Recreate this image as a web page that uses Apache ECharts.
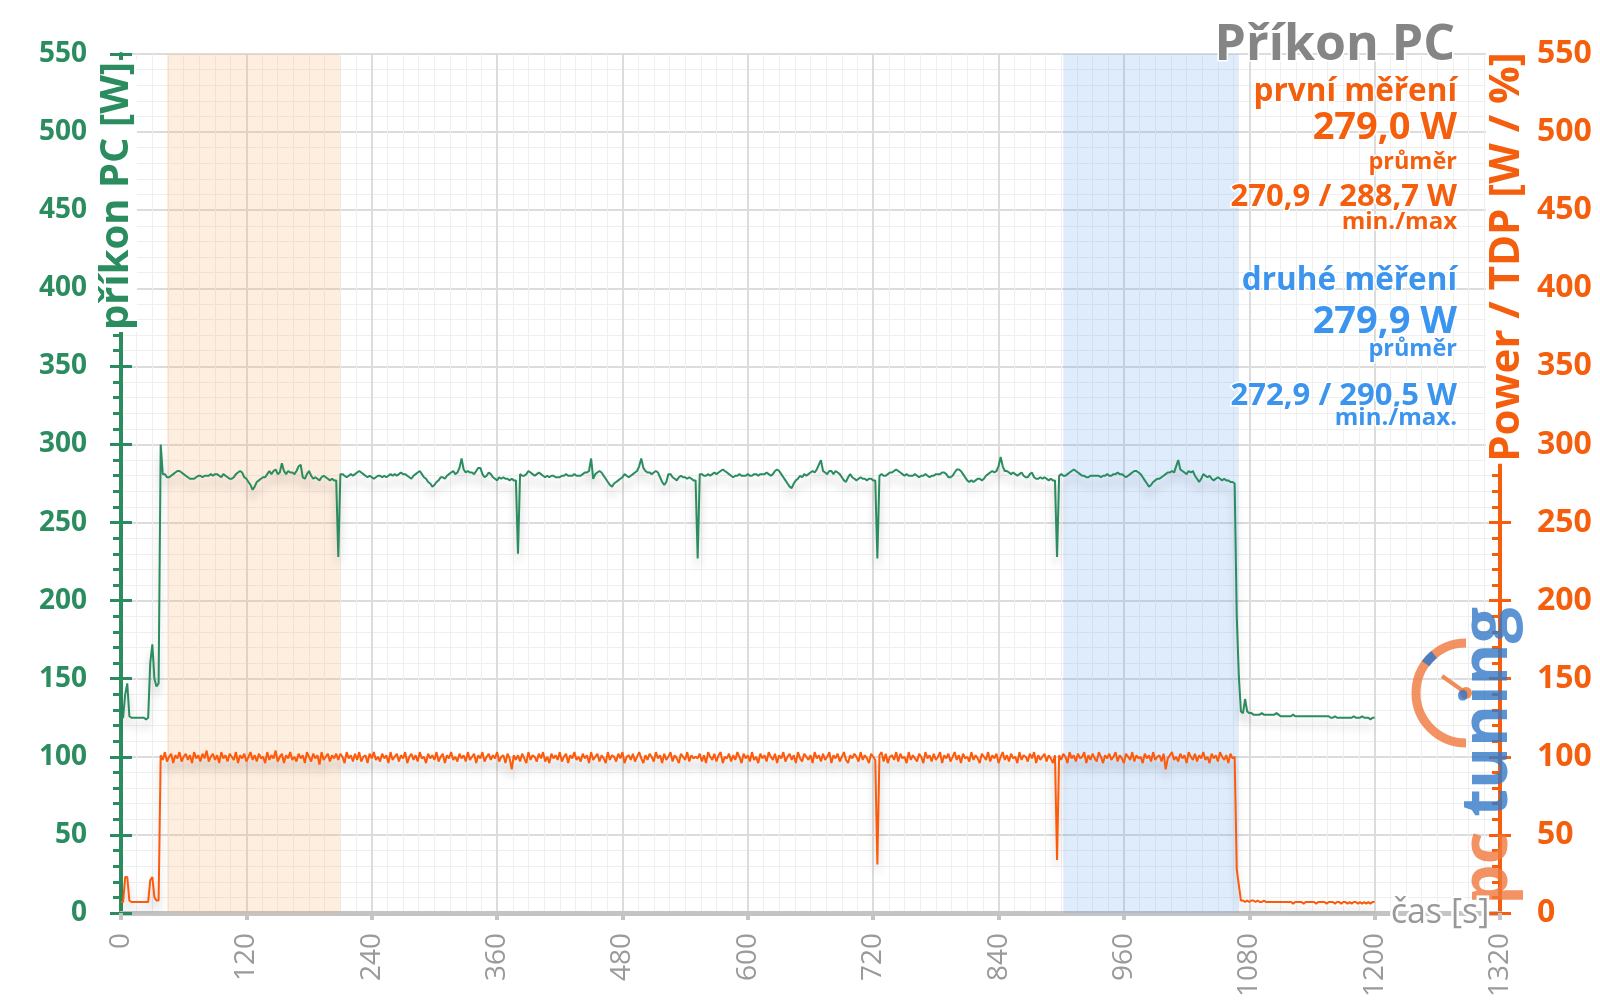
<!DOCTYPE html>
<html><head><meta charset="utf-8">
<script src="https://cdn.jsdelivr.net/npm/echarts@6/dist/echarts.min.js"></script>
<style>html,body{margin:0;padding:0;background:#fff}#c{width:1600px;height:1008px}</style>
</head><body><div id="c"></div>
<script>
// ---------- DATA (time step 2 s inside each segment) ----------
const STEP = 2;
const cycleStarts = [38, 208, 380, 552, 724, 896];
const tailStart = 1068;

const pcIdleStart = [125,125,140,147,126,125,125,125,125,125,125,125,124,125,160,172,150,145,147];
const pcCycle1 = [
300,281,281,279,279,280,281,282,283,283,
282,281,280,279,278,278,278,279,280,280,
279,280,280,280,281,280,281,281,280,279,
281,280,279,278,278,279,281,282,283,282,
279,278,276,274,271,273,276,277,278,279,
279,281,283,281,283,284,281,282,288,283,
281,283,282,282,281,283,286,287,279,278,
281,283,280,278,279,278,277,279,280,279,
278,277,278,277,277];
const pcCycle2 = [
228,281,281,280,279,280,281,280,281,282,
283,282,281,280,279,280,279,278,279,280,
280,279,280,279,280,281,280,281,280,281,
282,281,281,280,279,278,280,281,282,283,
281,279,278,276,275,273,274,276,277,279,
279,278,280,281,282,283,281,282,285,291,
284,282,283,282,282,281,283,285,285,281,
279,280,282,281,279,278,277,279,278,279,
278,278,277,278,277,277];
const pcCycle3 = [
230,281,280,280,281,283,282,281,280,281,
282,281,280,279,280,279,280,280,279,279,
279,280,280,281,280,280,280,281,280,280,
280,281,282,282,283,291,278,281,282,283,
282,280,278,276,274,273,275,276,277,278,
279,281,280,279,280,281,282,283,286,291,
285,283,282,282,281,282,283,282,279,276,
274,276,281,281,279,278,277,279,280,279,
279,278,279,278,277,277];
const pcCycle4 = [
227,281,281,280,280,281,280,281,282,281,
282,283,284,283,282,281,280,279,280,280,
281,280,280,280,281,280,280,281,281,280,
281,281,281,282,281,280,281,283,284,283,
281,279,277,275,273,272,275,277,278,280,
279,281,280,281,282,283,282,284,287,290,
283,282,281,283,283,281,283,282,281,279,
277,276,279,281,279,278,277,278,279,278,
278,277,278,278,277,277];
const pcCycle5 = [
227,280,281,280,280,281,282,282,283,284,
283,282,281,280,281,280,280,280,281,280,
279,280,280,281,280,279,280,280,281,281,
281,282,282,281,279,279,280,282,284,284,
283,281,279,277,276,277,276,277,278,278,
277,278,280,281,282,283,282,283,286,292,
286,283,283,282,281,282,281,280,281,282,
280,279,279,281,282,279,278,278,279,278,
279,278,277,278,277,277];
const pcCycle6 = [
228,280,281,280,280,281,282,283,284,283,
282,281,280,280,279,279,280,280,280,280,
280,279,280,280,281,280,280,281,281,282,
281,281,280,279,280,281,282,283,283,282,
281,279,277,275,273,274,276,277,278,278,
279,280,281,282,282,283,282,286,290,284,
283,282,281,283,282,283,280,278,276,278,
281,280,279,280,278,277,278,279,278,277,
278,277,277,276,276,275];
const pcTail = [
190,152,129,128,137,129,128,128,127,127,
127,127,128,127,127,127,127,127,127,128,
127,126,126,126,126,126,126,127,126,126,
126,126,126,126,126,126,126,126,126,126,
126,126,126,126,126,125,125,126,125,125,
125,125,125,125,125,125,126,125,125,125,
126,125,125,125,124,125,125];

const tdpIdleStart = [7,7,23,23,8,7,7,7,7,7,7,7,7,7,21,23,10,8,8];
const tdpCycle1 = [
101,98,103,97,100,102,96,101,99,103,
97,100,102,98,101,96,103,99,101,97,
102,99,104,97,100,102,98,101,96,103,
99,101,97,102,100,98,103,96,101,99,
102,97,100,103,98,101,97,102,99,100,
96,103,98,101,99,104,97,100,102,96,
101,99,103,98,100,97,102,99,101,96,
103,100,97,102,99,101,95,103,98,100,
102,97,101,99,102];
const tdpCycle2 = [
98,102,100,96,103,99,101,97,102,98,
103,97,100,101,96,102,99,103,98,100,
97,102,99,101,96,103,98,100,102,97,
101,99,103,96,100,102,98,101,97,103,
99,100,96,102,99,101,98,103,97,100,
102,96,101,99,103,98,100,97,102,99,
101,97,103,98,100,102,96,101,99,103,
97,100,102,98,101,99,103,97,100,101,
96,102,99,92,101,98];
const tdpCycle3 = [
101,97,102,99,96,103,98,101,100,97,
102,99,103,97,100,96,102,99,101,98,
103,97,100,102,96,101,99,103,98,100,
97,102,99,101,96,103,98,100,102,97,
101,99,96,103,98,101,100,97,102,99,
103,96,100,101,98,102,97,100,103,99,
96,101,98,102,100,97,103,99,101,96,
102,98,100,103,97,101,99,96,102,100,
98,103,97,101,99,100];
const tdpCycle4 = [
99,102,97,101,96,103,100,98,102,97,
101,103,96,100,99,102,97,101,98,103,
100,96,102,99,101,97,103,98,100,96,
102,99,101,97,103,100,98,102,96,101,
99,103,97,100,102,98,101,96,103,99,
97,102,100,98,101,96,103,99,101,97,
102,98,100,103,96,101,99,102,97,100,
103,98,96,101,99,102,100,97,103,98,
101,99,96,102,100,98];
const tdpCycle5 = [
31,101,103,97,102,96,100,101,98,103,
97,102,99,100,96,103,98,101,99,97,
102,100,96,103,99,101,97,102,98,100,
103,96,101,99,102,97,100,103,98,101,
96,102,99,100,97,103,98,101,99,96,
102,100,98,103,97,101,99,102,96,100,
103,98,101,97,102,99,100,96,103,98,
101,100,97,102,99,103,96,101,98,100,
102,97,101,99,96,101];
const tdpCycle6 = [
34,101,98,102,100,96,103,99,101,97,
102,99,100,103,96,101,98,102,99,97,
103,100,96,101,99,102,98,100,103,97,
101,99,96,102,100,98,103,97,101,99,
100,96,102,99,101,97,103,98,100,101,
97,102,92,99,101,103,98,100,97,102,
99,101,96,103,100,98,102,97,101,99,
103,98,100,96,102,99,101,97,103,100,
98,101,96,102,99,100];
const tdpTail = [
28,18,8,8,7,8,7,8,8,7,
8,7,7,8,7,7,7,7,7,7,
7,7,7,7,7,7,7,6,7,7,
7,7,6,7,7,7,7,7,6,7,
7,7,7,6,7,7,7,6,7,7,
6,7,7,6,7,6,7,7,6,7,
6,7,6,7,6,7,7];

const bandFirst = [44, 210];
const bandSecond = [902, 1070];

// ---------- BUILD ----------
function seg(start, vals, limit) {
  return vals.map((v, i) => [start + i * STEP, v]).filter(p => limit == null || p[0] < limit);
}
function buildSeries(idle, cycles, tail) {
  let out = seg(0, idle, cycleStarts[0]);
  cycles.forEach((c, k) => {
    const lim = k + 1 < cycleStarts.length ? cycleStarts[k + 1] : tailStart;
    out = out.concat(seg(cycleStarts[k], c, lim));
  });
  return out.concat(seg(tailStart, tail));
}
const pcData = buildSeries(pcIdleStart, [pcCycle1, pcCycle2, pcCycle3, pcCycle4, pcCycle5, pcCycle6], pcTail);
const tdpData = buildSeries(tdpIdleStart, [tdpCycle1, tdpCycle2, tdpCycle3, tdpCycle4, tdpCycle5, tdpCycle6], tdpTail);

const GREEN = '#2b8c5f', ORANGE = '#f45e0c', BLUE = '#3b94ee', GREY = '#858585';
const FONT = 'Open Sans';

function yAx(extra) {
  return Object.assign({
    type: 'value', min: 0, max: 550, interval: 50,
    axisLine: { show: false }, axisLabel: { show: false }, splitLine: { show: false },
    axisTick: { show: false }, minorTick: { show: false }
  }, extra);
}

const chart = echarts.init(document.getElementById('c'), null, { renderer: 'canvas' });
const txt = (text, x, y, color, size, extra) => Object.assign({
  type: 'text', x: x, y: y, z: 50,
  style: Object.assign({ text: text, fill: color, fontSize: size, fontWeight: 'bold', fontFamily: FONT,
    align: 'right', verticalAlign: 'middle', stroke: '#fff', lineWidth: 3 }, extra || {})
});

chart.setOption({
  animation: false,
  backgroundColor: '#fff',
  grid: { left: 121, right: 100, top: 54, bottom: 95 },
  xAxis: {
    type: 'value', min: 0, max: 1320, interval: 120,
    axisLine: { onZero: false, lineStyle: { color: '#c4c4c4', width: 5 } },
    axisTick: { length: 7, lineStyle: { color: '#c4c4c4', width: 4 } },
    minorTick: { show: false, splitNumber: 8 },
    axisLabel: { rotate: 90, color: '#9a9a9a', fontSize: 28, fontFamily: FONT, margin: 20, showMinLabel: true, showMaxLabel: true,
      formatter: v => String(v) },
    splitLine: { show: true, lineStyle: { color: '#dcdcdc', width: 2 } },
    minorSplitLine: { show: true, lineStyle: { color: '#efefef', width: 1 } }
  },
  yAxis: [
    yAx({
      position: 'left',
      axisLine: { show: true, lineStyle: { color: GREEN, width: 4 } },
      axisTick: { show: true, length: 11, lineStyle: { color: GREEN, width: 3 } },
      minorTick: { show: true, splitNumber: 5, length: 8, lineStyle: { color: GREEN, width: 3 } },
      axisLabel: { show: true, color: GREEN, fontSize: 28, fontWeight: 'bold', fontFamily: FONT, margin: 34 },
      splitLine: { show: true, lineStyle: { color: '#dcdcdc', width: 2 } },
      minorSplitLine: { show: true, lineStyle: { color: '#efefef', width: 1 } }
    }),
    yAx({
      position: 'right',
      axisLine: { show: true, lineStyle: { color: ORANGE, width: 4 } },
      axisTick: { show: true, inside: true, length: 11, lineStyle: { color: ORANGE, width: 3 } },
      minorTick: { show: true, splitNumber: 5, length: 8, lineStyle: { color: ORANGE, width: 3 } },
      axisLabel: { show: true, color: ORANGE, fontSize: 32, fontWeight: 'bold', fontFamily: FONT, margin: 37 }
    }),
    yAx({ position: 'left', axisTick: { show: true, inside: true, length: 11, lineStyle: { color: GREEN, width: 3 } } }),
    yAx({ position: 'right', axisTick: { show: true, length: 11, lineStyle: { color: ORANGE, width: 3 } } })
  ],
  series: [
    {
      type: 'line', data: [], yAxisIndex: 0, z: 1, silent: true,
      markArea: {
        silent: true,
        data: [
          [{ xAxis: bandFirst[0], itemStyle: { color: 'rgba(250,170,100,0.2)' } }, { xAxis: bandFirst[1] }],
          [{ xAxis: bandSecond[0], itemStyle: { color: 'rgba(80,150,240,0.18)' } }, { xAxis: bandSecond[1] }]
        ]
      }
    },
    {
      name: 'příkon PC', type: 'line', yAxisIndex: 0, data: pcData, showSymbol: false, z: 5,
      lineStyle: { color: GREEN, width: 2, shadowColor: 'rgba(0,0,0,0.22)', shadowBlur: 10, shadowOffsetY: 8 },
      itemStyle: { color: GREEN }
    },
    {
      name: 'Power / TDP', type: 'line', yAxisIndex: 1, data: tdpData, showSymbol: false, z: 5,
      lineStyle: { color: '#ff5a0a', width: 2, shadowColor: 'rgba(0,0,0,0.22)', shadowBlur: 10, shadowOffsetY: 8 },
      itemStyle: { color: '#ff5a0a' }
    }
  ],
  graphic: [
    // logo
    { type: 'arc', z: 3, shape: { cx: 1466, cy: 693, r: 50, startAngle: Math.PI / 2, endAngle: Math.PI * 1.5, clockwise: true },
      style: { stroke: 'rgba(240,120,60,0.8)', lineWidth: 9, fill: null } },
    { type: 'arc', z: 3, shape: { cx: 1466, cy: 693, r: 50, startAngle: Math.PI * 1.2, endAngle: Math.PI * 1.28, clockwise: true },
      style: { stroke: 'rgba(50,120,200,0.85)', lineWidth: 9, fill: null } },
    { type: 'line', z: 3, shape: { x1: 1466, y1: 693, x2: 1442, y2: 676 }, style: { stroke: 'rgba(240,120,60,0.85)', lineWidth: 4 } },
    { type: 'circle', z: 3, shape: { cx: 1466, cy: 693, r: 6 }, style: { fill: 'rgba(240,120,60,0.85)' } },
    { type: 'text', z: 3, x: 1489, y: 712, rotation: Math.PI / 2,
      style: { text: 'tuning', fill: 'rgba(50,120,200,0.8)', fontSize: 64, fontWeight: 'bold', fontFamily: FONT, align: 'center', verticalAlign: 'middle' } },
    { type: 'text', z: 3, x: 1489, y: 868, rotation: Math.PI / 2,
      style: { text: 'pc', fill: 'rgba(240,120,60,0.8)', fontSize: 64, fontWeight: 'bold', fontFamily: FONT, align: 'center', verticalAlign: 'middle' } },
    // axis names
    { type: 'text', z: 40, x: 117, y: 196, rotation: Math.PI / 2,
      style: { text: 'příkon PC [W]', fill: GREEN, fontSize: 40, fontWeight: 'bold', fontFamily: FONT, align: 'center', verticalAlign: 'middle',
        backgroundColor: '#fff', padding: [0, 2] } },
    { type: 'text', z: 40, x: 1507, y: 257, rotation: Math.PI / 2,
      style: { text: 'Power / TDP [W / %]', fill: ORANGE, fontSize: 42, fontWeight: 'bold', fontFamily: FONT, align: 'center', verticalAlign: 'middle',
        backgroundColor: '#fff', padding: [0, 2] } },
    { type: 'text', z: 40, x: 1440, y: 913,
      style: { text: 'čas [s]', fill: '#999', fontSize: 34, fontFamily: FONT, align: 'center', verticalAlign: 'middle', stroke: '#fff', lineWidth: 5 } },
    // title and annotations
    txt('Příkon PC', 1455, 46, GREY, 50),
    txt('první měření', 1457, 92, ORANGE, 31.5),
    txt('279,0 W', 1457, 128, ORANGE, 38),
    txt('průměr', 1457, 162, ORANGE, 23.5),
    txt('270,9 / 288,7 W', 1457, 197, ORANGE, 31),
    txt('min./max', 1457, 222, ORANGE, 24),
    txt('druhé měření', 1457, 281, BLUE, 31.5),
    txt('279,9 W', 1457, 322, BLUE, 38),
    txt('průměr', 1457, 349, BLUE, 23.5),
    txt('272,9 / 290,5 W', 1457, 396, BLUE, 31),
    txt('min./max.', 1457, 418, BLUE, 24)
  ]
});
</script></body></html>
